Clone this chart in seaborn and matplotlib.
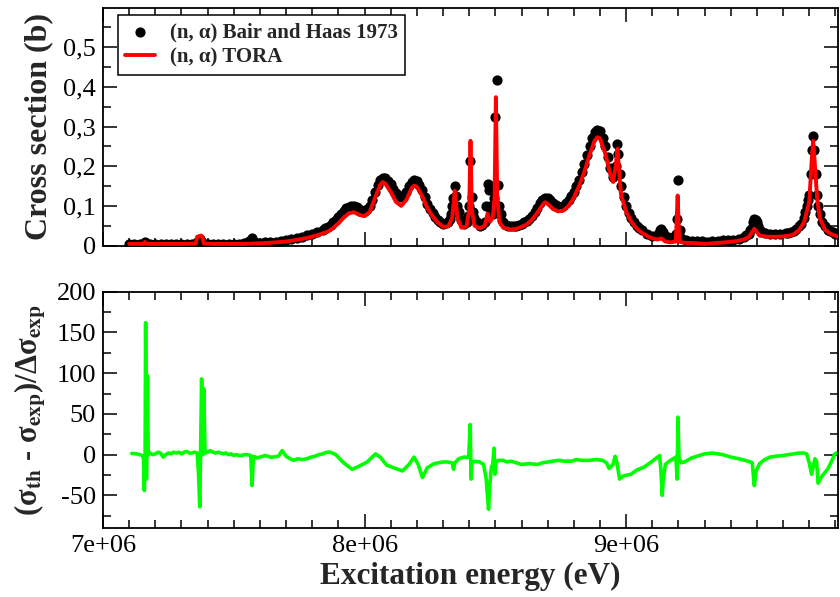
import numpy as np
import pandas as pd
import matplotlib
matplotlib.use("Agg")
import matplotlib.pyplot as plt
import seaborn as sns
from matplotlib.ticker import FixedLocator, FuncFormatter, MultipleLocator

sns.set_theme(style="ticks")
plt.rcParams["font.family"] = ["Liberation Serif", "DejaVu Serif"]
plt.rcParams["mathtext.fontset"] = "stix"
plt.rcParams["axes.unicode_minus"] = False

# ---------------- data: (energy in MeV, value) ----------------
# (n, alpha) Bair and Haas 1973 -- cross section (b)
exp_points = [
    (7.10, 0.005), (7.12, 0.005), (7.14, 0.005), (7.16, 0.009), (7.18, 0.005),
    (7.20, 0.005), (7.22, 0.005), (7.24, 0.005), (7.26, 0.005), (7.28, 0.005),
    (7.30, 0.005), (7.32, 0.005), (7.34, 0.005), (7.36, 0.008), (7.37, 0.016),
    (7.38, 0.010), (7.40, 0.005), (7.42, 0.005), (7.44, 0.005), (7.46, 0.005),
    (7.48, 0.005), (7.50, 0.005), (7.52, 0.005), (7.54, 0.006), (7.56, 0.012),
    (7.57, 0.018), (7.58, 0.010), (7.60, 0.007), (7.62, 0.008), (7.64, 0.009),
    (7.66, 0.010), (7.68, 0.012), (7.70, 0.014), (7.72, 0.016), (7.74, 0.019),
    (7.76, 0.022), (7.78, 0.026), (7.80, 0.030), (7.82, 0.035), (7.84, 0.040),
    (7.85, 0.043), (7.86, 0.047), (7.87, 0.052), (7.88, 0.058), (7.89, 0.065),
    (7.90, 0.072), (7.91, 0.080), (7.92, 0.088), (7.93, 0.094), (7.94, 0.098),
    (7.95, 0.100), (7.96, 0.100), (7.97, 0.096), (7.98, 0.092), (7.99, 0.088),
    (8.00, 0.088), (8.01, 0.092), (8.02, 0.100), (8.03, 0.115), (8.04, 0.135),
    (8.05, 0.152), (8.06, 0.165), (8.07, 0.171), (8.08, 0.170), (8.09, 0.163),
    (8.10, 0.155), (8.11, 0.143), (8.12, 0.133), (8.13, 0.125), (8.14, 0.123),
    (8.15, 0.127), (8.16, 0.135), (8.17, 0.150), (8.18, 0.160), (8.19, 0.165),
    (8.20, 0.163), (8.21, 0.153), (8.22, 0.140), (8.23, 0.122), (8.24, 0.105),
    (8.25, 0.092), (8.26, 0.082), (8.27, 0.072), (8.28, 0.065), (8.29, 0.060),
    (8.30, 0.055), (8.31, 0.056), (8.32, 0.060), (8.325, 0.068), (8.33, 0.080),
    (8.335, 0.100), (8.34, 0.120), (8.345, 0.149), (8.35, 0.125), (8.355, 0.100),
    (8.36, 0.085), (8.37, 0.065), (8.38, 0.055), (8.39, 0.060), (8.395, 0.075),
    (8.40, 0.100), (8.405, 0.212), (8.41, 0.123), (8.415, 0.085), (8.42, 0.070),
    (8.43, 0.058), (8.44, 0.050), (8.45, 0.052), (8.46, 0.060), (8.465, 0.100),
    (8.47, 0.155), (8.475, 0.140), (8.48, 0.100), (8.485, 0.088), (8.49, 0.080),
    (8.495, 0.120), (8.50, 0.323), (8.505, 0.416), (8.51, 0.152), (8.515, 0.100),
    (8.52, 0.080), (8.53, 0.060), (8.54, 0.052), (8.55, 0.049), (8.56, 0.048),
    (8.57, 0.048), (8.58, 0.050), (8.59, 0.052), (8.60, 0.055), (8.61, 0.058),
    (8.62, 0.062), (8.63, 0.068), (8.64, 0.075), (8.65, 0.085), (8.66, 0.095),
    (8.67, 0.106), (8.68, 0.115), (8.69, 0.121), (8.70, 0.120), (8.71, 0.114),
    (8.72, 0.108), (8.73, 0.102), (8.74, 0.098), (8.75, 0.098), (8.76, 0.100),
    (8.77, 0.106), (8.78, 0.115), (8.79, 0.124), (8.80, 0.135), (8.81, 0.150),
    (8.82, 0.165), (8.83, 0.185), (8.84, 0.205), (8.85, 0.228), (8.86, 0.250),
    (8.87, 0.270), (8.88, 0.285), (8.89, 0.291), (8.90, 0.288), (8.91, 0.272),
    (8.92, 0.250), (8.93, 0.222), (8.94, 0.195), (8.95, 0.172), (8.955, 0.180),
    (8.96, 0.200), (8.965, 0.256), (8.97, 0.230), (8.975, 0.180), (8.98, 0.150),
    (8.99, 0.122), (9.00, 0.100), (9.01, 0.083), (9.02, 0.070), (9.03, 0.059),
    (9.04, 0.050), (9.05, 0.043), (9.06, 0.038), (9.08, 0.030), (9.10, 0.025),
    (9.12, 0.030), (9.13, 0.038), (9.135, 0.042), (9.14, 0.035), (9.15, 0.025),
    (9.16, 0.022), (9.17, 0.020), (9.18, 0.022), (9.19, 0.028), (9.195, 0.067),
    (9.20, 0.166), (9.205, 0.040), (9.21, 0.020), (9.23, 0.013), (9.25, 0.012),
    (9.27, 0.012), (9.29, 0.012), (9.31, 0.010), (9.33, 0.012), (9.35, 0.012),
    (9.37, 0.013), (9.39, 0.014), (9.41, 0.015), (9.43, 0.017), (9.45, 0.022),
    (9.46, 0.026), (9.47, 0.030), (9.475, 0.038), (9.48, 0.045), (9.485, 0.058),
    (9.49, 0.068), (9.495, 0.065), (9.50, 0.058), (9.505, 0.048), (9.51, 0.040),
    (9.52, 0.035), (9.53, 0.032), (9.55, 0.030), (9.57, 0.030), (9.59, 0.030),
    (9.61, 0.031), (9.62, 0.032), (9.63, 0.034), (9.64, 0.037), (9.65, 0.042),
    (9.66, 0.048), (9.67, 0.055), (9.68, 0.070), (9.685, 0.085), (9.69, 0.100),
    (9.695, 0.115), (9.70, 0.128), (9.705, 0.180), (9.71, 0.242), (9.715, 0.275),
    (9.72, 0.240), (9.725, 0.180), (9.73, 0.128), (9.735, 0.100), (9.74, 0.080),
    (9.75, 0.060), (9.76, 0.048), (9.77, 0.040), (9.78, 0.036), (9.79, 0.033),
    (9.80, 0.030), (9.81, 0.030),
]

# (n, alpha) TORA -- cross section (b)
tora_points = [
    (7.10, 0.004), (7.14, 0.004), (7.155, 0.004), (7.16, 0.009), (7.165, 0.004),
    (7.20, 0.004), (7.25, 0.004), (7.30, 0.004), (7.355, 0.005), (7.36, 0.022),
    (7.375, 0.025), (7.38, 0.022), (7.385, 0.005), (7.42, 0.004), (7.46, 0.004),
    (7.50, 0.004), (7.54, 0.004), (7.58, 0.005), (7.62, 0.006), (7.66, 0.008),
    (7.70, 0.010), (7.74, 0.014), (7.78, 0.019), (7.82, 0.026), (7.86, 0.035),
    (7.88, 0.044), (7.90, 0.056), (7.92, 0.070), (7.94, 0.081), (7.96, 0.084),
    (7.98, 0.077), (8.00, 0.074), (8.02, 0.085), (8.04, 0.120), (8.06, 0.153),
    (8.07, 0.160), (8.08, 0.155), (8.10, 0.135), (8.12, 0.110), (8.14, 0.100),
    (8.16, 0.115), (8.18, 0.145), (8.19, 0.151), (8.20, 0.148), (8.22, 0.125),
    (8.24, 0.095), (8.26, 0.073), (8.28, 0.058), (8.30, 0.047), (8.32, 0.048),
    (8.335, 0.070), (8.345, 0.138), (8.355, 0.070), (8.37, 0.045), (8.39, 0.048),
    (8.40, 0.090), (8.405, 0.264), (8.41, 0.090), (8.42, 0.050), (8.44, 0.043),
    (8.46, 0.050), (8.47, 0.080), (8.48, 0.060), (8.49, 0.070), (8.497, 0.120),
    (8.502, 0.374), (8.507, 0.130), (8.515, 0.060), (8.53, 0.045), (8.56, 0.040),
    (8.58, 0.042), (8.60, 0.047), (8.62, 0.053), (8.64, 0.065), (8.66, 0.082),
    (8.68, 0.102), (8.69, 0.109), (8.70, 0.105), (8.72, 0.092), (8.74, 0.086),
    (8.76, 0.088), (8.78, 0.100), (8.80, 0.120), (8.82, 0.150), (8.84, 0.185),
    (8.86, 0.228), (8.88, 0.265), (8.89, 0.273), (8.90, 0.270), (8.92, 0.232),
    (8.94, 0.178), (8.95, 0.160), (8.96, 0.200), (8.967, 0.244), (8.975, 0.170),
    (8.98, 0.130), (9.00, 0.085), (9.02, 0.060), (9.04, 0.043), (9.06, 0.032),
    (9.08, 0.024), (9.10, 0.018), (9.12, 0.015), (9.135, 0.018), (9.15, 0.010),
    (9.17, 0.008), (9.19, 0.010), (9.197, 0.126), (9.203, 0.010), (9.22, 0.007),
    (9.26, 0.006), (9.30, 0.004), (9.34, 0.006), (9.38, 0.008), (9.42, 0.011),
    (9.45, 0.015), (9.47, 0.022), (9.49, 0.042), (9.51, 0.025), (9.54, 0.022),
    (9.58, 0.022), (9.62, 0.024), (9.64, 0.028), (9.66, 0.038), (9.68, 0.058),
    (9.70, 0.110), (9.71, 0.220), (9.715, 0.264), (9.72, 0.220), (9.73, 0.120),
    (9.74, 0.070), (9.76, 0.040), (9.78, 0.030), (9.81, 0.022),
]

# (sigma_th - sigma_exp) / delta sigma_exp
resid_points = [
    (7.110, 1.5), (7.130, 1.0), (7.150, -1.0), (7.155, -5), (7.158, -44),
    (7.161, 0), (7.163, 162), (7.166, -30), (7.170, 97), (7.173, 0),
    (7.180, 2), (7.190, 0), (7.200, 1), (7.210, 3), (7.220, 2), (7.230, -3),
    (7.240, 0), (7.250, 2), (7.260, 1), (7.270, 3), (7.280, 2), (7.290, 3),
    (7.300, 1), (7.310, 3), (7.320, 4), (7.330, 2), (7.340, 2), (7.350, 3),
    (7.360, 2), (7.365, -22), (7.370, -64), (7.373, 0), (7.377, 93),
    (7.382, 0), (7.385, 81), (7.390, 2), (7.400, 3), (7.410, 5), (7.420, 3),
    (7.430, 2), (7.440, 3), (7.450, 2), (7.460, 1), (7.470, 2), (7.480, 0),
    (7.490, 1), (7.500, -1), (7.510, 0), (7.520, -1), (7.530, -1),
    (7.540, 0), (7.550, 0), (7.565, -1), (7.570, -38), (7.575, -2),
    (7.590, -4), (7.600, -3), (7.620, -1), (7.640, -3), (7.650, -3),
    (7.670, -2), (7.685, 5), (7.700, -2), (7.715, -5), (7.730, -7),
    (7.745, -5), (7.760, -6), (7.780, -5), (7.795, -3), (7.810, -2),
    (7.825, 0), (7.840, 1), (7.855, 3), (7.870, 3), (7.890, 0),
    (7.920, -10), (7.953, -18), (7.980, -14), (8.010, -9), (8.042, 1),
    (8.060, -3), (8.085, -13), (8.120, -17), (8.145, -20), (8.170, -12),
    (8.189, -3), (8.205, -12), (8.221, -28), (8.240, -16), (8.266, -11),
    (8.300, -9), (8.317, -9), (8.335, -10), (8.340, -18), (8.345, -10),
    (8.360, -5), (8.380, -3), (8.398, -3), (8.404, 37), (8.407, -30),
    (8.410, -10), (8.420, -8), (8.440, -9), (8.455, -12), (8.465, -30),
    (8.470, -50), (8.474, -67), (8.478, -40), (8.485, -15), (8.490, -12),
    (8.495, 8), (8.498, -24), (8.502, -10), (8.510, -7), (8.530, -7),
    (8.545, -9), (8.560, -8), (8.580, -10), (8.600, -12), (8.630, -11),
    (8.662, -12), (8.680, -10), (8.700, -9), (8.720, -8), (8.740, -7),
    (8.765, -8), (8.790, -8), (8.810, -6), (8.830, -7), (8.860, -7),
    (8.885, -6), (8.910, -7), (8.925, -10), (8.935, -17), (8.950, -12),
    (8.958, -2), (8.965, -10), (8.975, -30), (8.990, -26), (9.019, -24),
    (9.040, -19), (9.070, -15), (9.100, -8), (9.128, -1), (9.133, -20),
    (9.138, -50), (9.142, -30), (9.150, -12), (9.165, -8), (9.180, -5),
    (9.190, -3), (9.195, -30), (9.198, 46), (9.202, -3), (9.210, -10),
    (9.223, -9), (9.250, -4), (9.270, -2), (9.300, 1), (9.330, 2),
    (9.350, 1), (9.370, 0), (9.400, -3), (9.430, -5), (9.466, -8),
    (9.482, -10), (9.490, -38), (9.497, -20), (9.510, -11), (9.530, -6),
    (9.550, -3), (9.570, -2), (9.600, -1), (9.620, 0), (9.640, 1),
    (9.660, 2), (9.680, 2), (9.690, 1), (9.700, -10), (9.709, -24),
    (9.722, -5), (9.728, -8), (9.734, -35), (9.745, -28), (9.760, -22),
    (9.772, -17), (9.790, -5), (9.798, 1), (9.812, 3),
]

x_ticks_ev = [7e6, 8e6, 9e6]
top_y_ticks = [0.0, 0.1, 0.2, 0.3, 0.4, 0.5]
bottom_y_ticks = [-50, 0, 50, 100, 150, 200]

label_exp = "(n, α) Bair and Haas 1973"
label_tora = "(n, α) TORA"

df_exp = pd.DataFrame(exp_points, columns=["E", "sigma"])
df_exp["E"] *= 1e6
df_tora = pd.DataFrame(tora_points, columns=["E", "sigma"])
df_tora["E"] *= 1e6
df_res = pd.DataFrame(resid_points, columns=["E", "r"])
df_res["E"] *= 1e6

# ---------------- figure ----------------
W, H = 840, 597
fig = plt.figure(figsize=(W / 100, H / 100), dpi=100)
fig.patch.set_facecolor("white")
left, right = 103, 838
ax1 = fig.add_axes([left / W, 1 - 245.5 / H, (right - left) / W, 238 / H])
ax2 = fig.add_axes([left / W, 1 - 528 / H, (right - left) / W, 236.3 / H])

sns.scatterplot(data=df_exp, x="E", y="sigma", ax=ax1, color="black", s=54,
                linewidth=0, label=label_exp, zorder=2)
sns.lineplot(data=df_tora, x="E", y="sigma", ax=ax1, color="#ff0000", lw=2.8,
             estimator=None, sort=False, label=label_tora, zorder=3)
sns.lineplot(data=df_res, x="E", y="r", ax=ax2, color="#00ff00", lw=2.6,
             estimator=None, sort=False)

xmin, xmax = 7.0e6, 9.81e6
for ax in (ax1, ax2):
    ax.set_xlim(xmin, xmax)
    ax.set_facecolor("white")
    ax.grid(False)
    for sp in ax.spines.values():
        sp.set_visible(True)
        sp.set_color("black")
        sp.set_linewidth(1.3)
    ax.xaxis.set_major_locator(FixedLocator(x_ticks_ev))
    ax.xaxis.set_minor_locator(MultipleLocator(1e5))
    ax.xaxis.set_major_formatter(FuncFormatter(lambda v, p: f"{v:.0e}"))
    ax.tick_params(which="both", direction="in", top=True, right=True,
                   bottom=True, left=True, color="black", labelcolor="black",
                   labelsize=19, width=1.1, pad=5)
    ax.tick_params(which="major", length=10)
    ax.tick_params(which="minor", length=5.5)

ax1.set_ylim(0, 0.6)
ax1.yaxis.set_major_locator(FixedLocator(top_y_ticks))
ax1.yaxis.set_minor_locator(FixedLocator([0.05, 0.15, 0.25, 0.35, 0.45, 0.55]))
ax1.yaxis.set_major_formatter(FuncFormatter(
    lambda v, p: "0" if abs(v) < 1e-9 else f"{v:.1f}".replace(".", ",")))
ax1.tick_params(labelbottom=False)
ax1.set_xlabel("")
ax1.set_ylabel("Cross section (b)", fontsize=23, fontweight="bold")
ax1.yaxis.set_label_coords(-0.068, 0.5)

ax2.set_ylim(-90, 200)
ax2.yaxis.set_major_locator(FixedLocator(bottom_y_ticks))
ax2.yaxis.set_minor_locator(FixedLocator([-75, -25, 25, 75, 125, 175]))
ax2.yaxis.set_major_formatter(FuncFormatter(lambda v, p: f"{int(round(v))}"))
ax2.set_xlabel("Excitation energy (eV)", fontsize=22.5, fontweight="bold")
ax2.xaxis.set_label_coords(0.5, -0.145)
ax2.set_ylabel(r"(σ$_{\mathbf{th}}$ - σ$_{\mathbf{exp}}$)/Δσ$_{\mathbf{exp}}$",
               fontsize=22, fontweight="bold")
ax2.yaxis.set_label_coords(-0.075, 0.5)

leg = ax1.legend(loc="upper left", bbox_to_anchor=(0.0204, 0.968), borderaxespad=0,
                 frameon=True, fancybox=False, edgecolor="black", framealpha=1,
                 prop={"family": ["Liberation Serif"], "weight": "bold", "size": 15},
                 handlelength=1.45, handletextpad=0.7, borderpad=0.35,
                 labelspacing=0.25, markerscale=1.0)
leg.get_frame().set_linewidth(1.1)

fig.savefig("out.png", dpi=100, facecolor="white")
